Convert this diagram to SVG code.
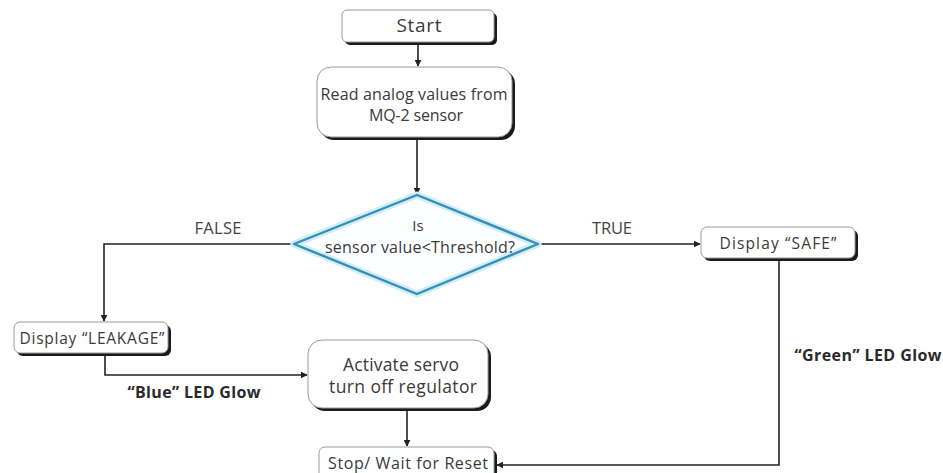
<svg xmlns="http://www.w3.org/2000/svg" width="943" height="473" viewBox="0 0 943 473">
<defs>
<marker id="ah" viewBox="0 0 10 10" refX="9" refY="5" markerWidth="7" markerHeight="7" markerUnits="userSpaceOnUse" orient="auto">
<path d="M0,0 L10,5 L0,10 z" fill="#222"/>
</marker>
<style>
.sh{fill:#1a1a1a}
.bx{fill:#fff;stroke:#9a9a9a;stroke-width:1}
.t{font-family:"Open Sans","Liberation Sans",sans-serif;fill:#3a3a3a;text-anchor:middle}
.lb{font-family:"Open Sans","Liberation Sans",sans-serif;fill:#444;font-size:16.5px;text-anchor:middle}
.bd{font-family:"Open Sans","Liberation Sans",sans-serif;fill:#2a2a2a;font-size:16px;font-weight:bold;text-anchor:middle}
.cn{fill:none;stroke:#222;stroke-width:1.6}
</style>
</defs>
<rect width="943" height="473" fill="#fff"/>
<g id="connectors">
<path class="cn" d="M418,43 V66" marker-end="url(#ah)"/>
<path class="cn" d="M417,137 V194" marker-end="url(#ah)"/>
<path class="cn" d="M294,244 H104 V321" marker-end="url(#ah)"/>
<path class="cn" d="M536,244 H700" marker-end="url(#ah)"/>
<path class="cn" d="M105,354 V375 H307" marker-end="url(#ah)"/>
<path class="cn" d="M407,409 V446" marker-end="url(#ah)"/>
<path class="cn" d="M779,260 V465 H497" marker-end="url(#ah)"/>
</g>
<g id="start">
<rect class="sh" x="345" y="13" width="152" height="32" rx="5"/>
<rect class="bx" x="342" y="10" width="152" height="32" rx="5"/>
<text class="t" x="419" y="32" font-size="19" textLength="45">Start</text>
</g>
<g id="read">
<rect class="sh" x="320" y="70" width="195" height="70" rx="14"/>
<rect class="bx" x="317" y="67" width="195" height="70" rx="14"/>
<text class="t" x="414" y="100" font-size="16" textLength="187">Read analog values from</text>
<text class="t" x="416" y="121" font-size="16" textLength="94">MQ-2 sensor</text>
</g>
<g id="decision">
<polygon points="417,195 538,244 417,294 294,244" fill="#fdfeff" stroke="#cdeefa" stroke-width="7" stroke-linejoin="round"/>
<polygon points="417,195 538,244 417,294 294,244" fill="none" stroke="#3a8db0" stroke-width="2.4" stroke-linejoin="round"/>
<text class="t" x="418" y="231" font-size="15">Is</text>
<text class="t" x="420" y="253" font-size="16" textLength="190">sensor value&lt;Threshold?</text>
</g>
<g id="labels">
<text class="lb" x="218" y="234" textLength="47">FALSE</text>
<text class="lb" x="612" y="234" textLength="40">TRUE</text>
<text class="bd" x="194" y="398" textLength="133">“Blue” LED Glow</text>
<text class="bd" x="868" y="361" textLength="147">“Green” LED Glow</text>
</g>
<g id="safe">
<rect class="sh" x="704" y="230" width="154" height="31" rx="6"/>
<rect class="bx" x="701" y="227" width="154" height="31" rx="6"/>
<text class="t" x="778" y="249" font-size="15.5" textLength="117">Display “SAFE”</text>
</g>
<g id="leakage">
<rect class="sh" x="17" y="325" width="154" height="31" rx="6"/>
<rect class="bx" x="14" y="322" width="154" height="31" rx="6"/>
<text class="t" x="92" y="344" font-size="15.5" textLength="145">Display “LEAKAGE”</text>
</g>
<g id="activate">
<rect class="sh" x="311" y="343" width="180" height="68" rx="14"/>
<rect class="bx" x="308" y="340" width="180" height="68" rx="14"/>
<text class="t" x="401" y="371" font-size="17.5" textLength="116">Activate servo</text>
<text class="t" x="403" y="393" font-size="17.5" textLength="148">turn off regulator</text>
</g>
<g id="stop">
<rect class="sh" x="322" y="450" width="175" height="34" rx="6"/>
<rect class="bx" x="319" y="447" width="175" height="34" rx="6"/>
<text class="t" x="408" y="469" font-size="16" textLength="160">Stop/ Wait for Reset</text>
</g>
</svg>
